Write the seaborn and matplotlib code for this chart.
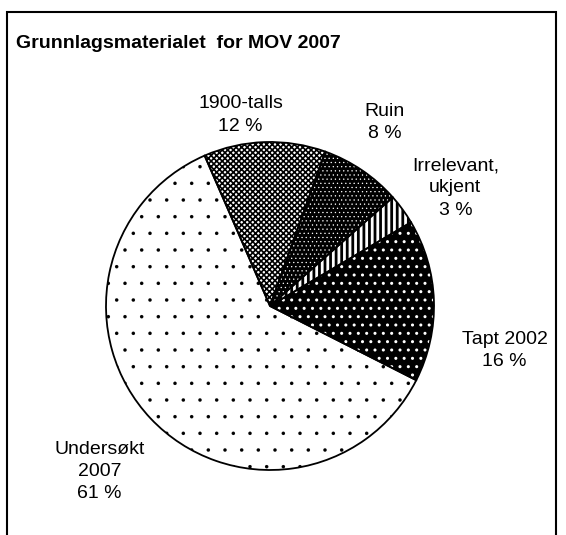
import matplotlib
matplotlib.use("Agg")
import matplotlib.pyplot as plt
import seaborn as sns
from matplotlib.patches import Rectangle

# Data
categories = ["1900-talls", "Ruin", "Irrelevant,\nukjent", "Tapt 2002", "Undersøkt\n2007"]
shares = [12, 8, 3, 16, 61]

# styling per slice (face, hatch, hatch colour, hatch width)
faces = ["white", "black", "white", "black", "white"]
hatches = ["xxxxxx", "....", "|||", "..", "."]
hatch_cols = ["black", "white", "black", "white", "black"]
hatch_lws = [1.2, 0.4, 2.0, 1.0, 0.1]
# label centres in pie-radius units
label_pos = [(-0.18, 1.165), (0.70, 1.12), (1.13, 0.72), (1.43, -0.27), (-1.04, -1.01)]

sns.set_theme(style="white")
plt.rcParams['font.family'] = ['Liberation Sans', 'DejaVu Sans']

fig = plt.figure(figsize=(5.66, 5.35), dpi=100)
ax = fig.add_axes([106 / 566, 65 / 535, 328 / 566, 328 / 535])

# hatched fill
wedges, _ = ax.pie(shares, startangle=113.5, counterclock=False,
                   colors=faces, radius=1.0,
                   wedgeprops=dict(linewidth=0))
for w, h, hc, hl in zip(wedges, hatches, hatch_cols, hatch_lws):
    w.set_hatch(h)
    w.set_edgecolor(hc)
    w.set_linewidth(0)
    if hasattr(w, "set_hatch_linewidth"):
        w.set_hatch_linewidth(hl)
    else:
        w._hatch_linewidth = hl

# outlines on top
ax.pie(shares, startangle=113.5, counterclock=False, radius=1.0,
       wedgeprops=dict(fill=False, edgecolor="black", linewidth=1.3))

ax.set_xlim(-1, 1)
ax.set_ylim(-1, 1)
ax.set_aspect("equal")
ax.axis("off")

for cat, val, (lx, ly) in zip(categories, shares, label_pos):
    ax.text(lx, ly, f"{cat}\n{val} %", ha="center", va="center",
            fontsize=14, linespacing=1.4, color="black")

fig.text(16 / 566, 1 - 43 / 535, "Grunnlagsmaterialet  for MOV 2007",
         fontsize=14, fontweight="bold", ha="left", va="center", color="black")

fig.patches.append(Rectangle((7 / 566, -0.05), 549 / 566, 1.05 - 12 / 535,
                             transform=fig.transFigure, fill=False,
                             edgecolor="black", linewidth=1.5))

fig.savefig("out.png", dpi=100, facecolor="white")
